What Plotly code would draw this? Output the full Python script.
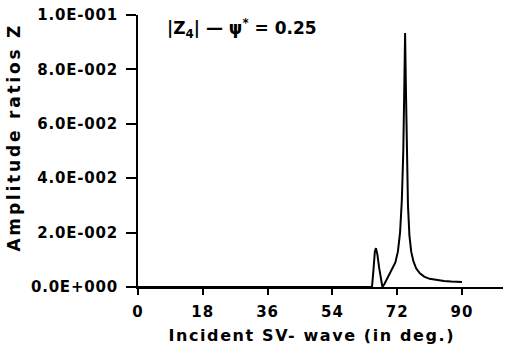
import plotly.graph_objects as go

# Data
angle_deg = [0, 65.0, 65.4, 65.8, 66.1, 66.5, 67.0, 67.5, 67.9, 68.5, 69.2, 70.0, 70.8,
             71.5, 72.2, 72.8, 73.3, 73.7, 74.0, 74.2, 74.4, 74.7, 75.0, 75.4, 75.9,
             76.5, 77.3, 78.3, 79.5, 81.0, 83.0, 85.0, 87.0, 89.0, 90.0]
amp_ratio_z = [0, 0, 0.006, 0.013, 0.0143, 0.012, 0.007, 0.003, 0.0, 0.0012, 0.003,
               0.005, 0.0068, 0.009, 0.013, 0.020, 0.032, 0.050, 0.075, 0.0934, 0.075,
               0.048, 0.030, 0.019, 0.013, 0.0095, 0.0068, 0.005, 0.0038, 0.003,
               0.0025, 0.0022, 0.0020, 0.0019, 0.0018]

x_tick_vals = [0, 18, 36, 54, 72, 90]
x_tick_text = ["0", "18", "36", "54", "72", "90"]
y_tick_vals = [0, 0.02, 0.04, 0.06, 0.08, 0.10]
y_tick_text = ["0.0E+000", "2.0E-002", "4.0E-002", "6.0E-002", "8.0E-002", "1.0E-001"]

FONT = "DejaVu Sans"

fig = go.Figure()
fig.add_trace(go.Scatter(x=angle_deg, y=amp_ratio_z, mode="lines",
                         line=dict(color="black", width=2), showlegend=False))

fig.update_layout(
    width=508, height=352,
    margin=dict(l=138, r=5, t=15, b=65),
    paper_bgcolor="white", plot_bgcolor="white",
    font=dict(family=FONT, color="black", size=14, weight="bold"),
    xaxis=dict(range=[0, 101.4], tickvals=x_tick_vals, ticktext=x_tick_text,
               showgrid=False, zeroline=False, showline=True, linecolor="black",
               linewidth=2, ticks="outside", ticklen=6, tickwidth=2, tickcolor="black",
               ticklabelstandoff=4,
               tickfont=dict(family=FONT, size=15, weight="bold")),
    yaxis=dict(range=[0, 0.1], tickvals=y_tick_vals, ticktext=y_tick_text,
               showgrid=False, zeroline=False, showline=True, linecolor="black",
               linewidth=2, ticks="outside", ticklen=10, tickwidth=2, tickcolor="black",
               ticklabelstandoff=5,
               tickfont=dict(family=FONT, size=15, weight="bold")),
)

fig.add_annotation(text="Incident SV- wave (in deg.)", xref="paper", yref="paper",
                   x=0.477, y=0, yshift=-48, showarrow=False, xanchor="center",
                   yanchor="middle", font=dict(family=FONT, size=16, weight="bold"))
fig.add_annotation(text="Amplitude ratios Z", xref="paper", yref="paper",
                   x=0, xshift=-124, y=0.55, showarrow=False, textangle=-90,
                   xanchor="center", yanchor="middle",
                   font=dict(family=FONT, size=17, weight="bold"))
fig.add_annotation(text="|Z<sub>4</sub>| \u2014 \u03c8<sup>*</sup> = 0.25", xref="paper",
                   yref="paper", x=0.074, y=0.952, showarrow=False, xanchor="left",
                   yanchor="middle", font=dict(family=FONT, size=17, weight="bold"))

post = """
var gd = document.getElementById('{plot_id}');
function setLS(sel, v){ gd.querySelectorAll(sel).forEach(function(t){ t.style.letterSpacing = v; }); }
setLS('g.annotation[data-index="0"] text', '1.6px');
setLS('g.annotation[data-index="1"] text', '2.8px');
setLS('g.ytick text', '0.8px');
setLS('g.xtick text', '1px');
"""

fig.write_html("out.html", post_script=post)
